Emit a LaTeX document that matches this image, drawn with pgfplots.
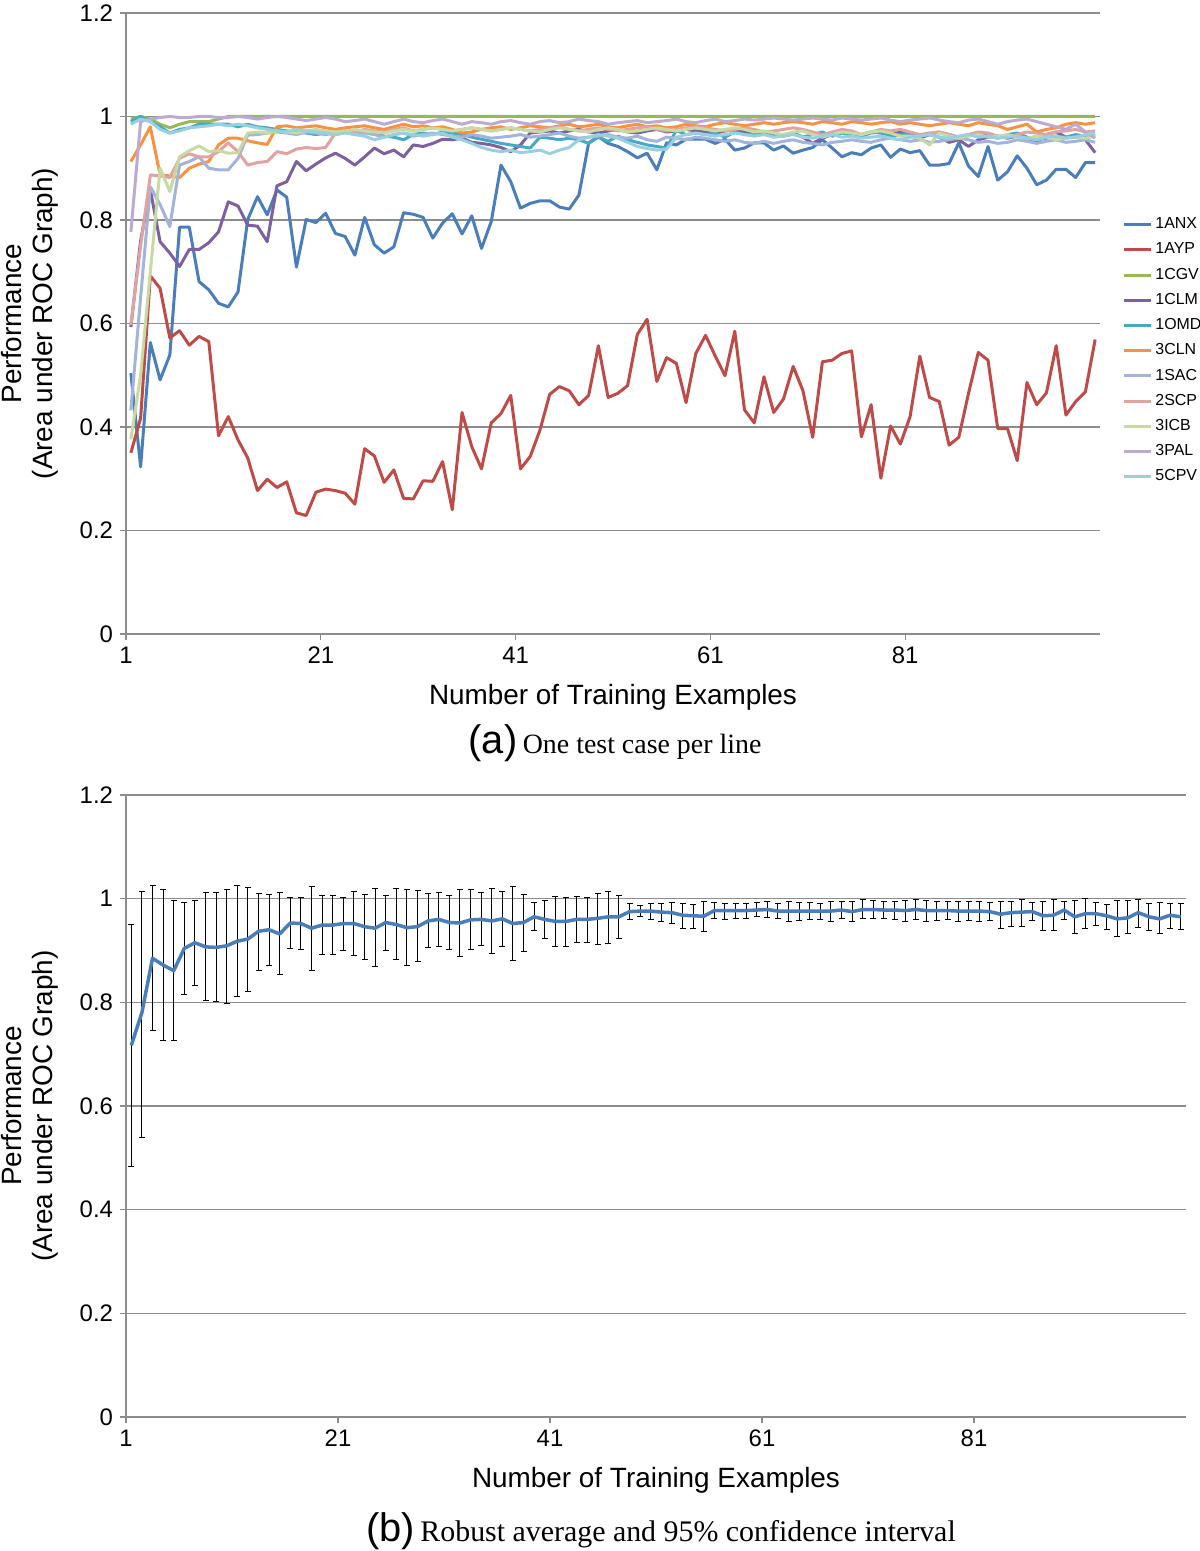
\documentclass[border=0pt]{standalone}
\usepackage{pgfplots}
\pgfplotsset{compat=1.18}
\usepackage{pgfplotstable}
\usepackage{fontspec}
\setmainfont{Liberation Sans}
\newfontfamily\capserif{Liberation Serif}

\definecolor{cANX}{HTML}{4A7EBB}
\definecolor{cAYP}{HTML}{BE4B48}
\definecolor{cCGV}{HTML}{98B954}
\definecolor{cCLM}{HTML}{7D60A0}
\definecolor{cOMD}{HTML}{46AAC5}
\definecolor{cCLN}{HTML}{F69240}
\definecolor{cSAC}{HTML}{A2B4DC}
\definecolor{cSCP}{HTML}{E0A3A1}
\definecolor{cICB}{HTML}{C7DAA1}
\definecolor{cPAL}{HTML}{BBAAD2}
\definecolor{cCPV}{HTML}{98D0E0}
\definecolor{gridc}{HTML}{8C8C8C}

\pgfplotstableread[header=false,row sep=\\]{
0.504\\0.323\\0.563\\0.491\\0.539\\0.786\\0.786\\0.681\\0.665\\0.639\\
0.632\\0.661\\0.801\\0.845\\0.810\\0.858\\0.844\\0.709\\0.801\\0.795\\
0.813\\0.774\\0.768\\0.732\\0.805\\0.752\\0.736\\0.748\\0.814\\0.811\\
0.805\\0.765\\0.794\\0.812\\0.773\\0.808\\0.745\\0.797\\0.906\\0.874\\
0.823\\0.832\\0.837\\0.837\\0.825\\0.821\\0.848\\0.949\\0.961\\0.948\\
0.942\\0.932\\0.920\\0.929\\0.897\\0.949\\0.945\\0.956\\0.956\\0.956\\
0.948\\0.956\\0.935\\0.939\\0.949\\0.949\\0.935\\0.943\\0.929\\0.935\\
0.940\\0.955\\0.939\\0.922\\0.930\\0.926\\0.939\\0.945\\0.921\\0.937\\
0.930\\0.934\\0.906\\0.906\\0.909\\0.949\\0.904\\0.884\\0.942\\0.877\\
0.893\\0.924\\0.900\\0.868\\0.877\\0.898\\0.898\\0.882\\0.911\\0.911\\
}\tANX

\pgfplotstableread[header=false,row sep=\\]{
0.350\\0.417\\0.692\\0.668\\0.572\\0.586\\0.558\\0.575\\0.565\\0.383\\
0.420\\0.375\\0.340\\0.277\\0.299\\0.283\\0.294\\0.234\\0.229\\0.274\\
0.280\\0.277\\0.272\\0.251\\0.358\\0.344\\0.293\\0.317\\0.262\\0.261\\
0.296\\0.295\\0.333\\0.240\\0.428\\0.362\\0.319\\0.408\\0.426\\0.461\\
0.319\\0.343\\0.394\\0.463\\0.478\\0.470\\0.443\\0.461\\0.557\\0.457\\
0.465\\0.480\\0.579\\0.608\\0.488\\0.534\\0.523\\0.447\\0.542\\0.577\\
0.537\\0.499\\0.585\\0.433\\0.408\\0.497\\0.428\\0.454\\0.517\\0.470\\
0.380\\0.526\\0.529\\0.542\\0.547\\0.381\\0.443\\0.301\\0.402\\0.367\\
0.420\\0.537\\0.457\\0.449\\0.365\\0.380\\0.465\\0.544\\0.529\\0.397\\
0.397\\0.335\\0.486\\0.443\\0.466\\0.557\\0.423\\0.449\\0.468\\0.569\\
}\tAYP

\pgfplotstableread[header=false,row sep=\\]{
0.995\\1\\0.995\\0.985\\0.978\\0.985\\0.99\\0.99\\0.99\\0.995\\
1\\1\\1\\1\\1\\1\\1\\1\\1\\1\\
1\\1\\1\\1\\1\\1\\1\\1\\1\\1\\
1\\1\\1\\1\\1\\1\\1\\1\\1\\1\\
1\\1\\1\\1\\1\\1\\1\\1\\1\\1\\
1\\1\\1\\1\\1\\1\\1\\1\\1\\1\\
1\\1\\1\\1\\1\\1\\1\\1\\1\\1\\
1\\1\\1\\1\\1\\1\\1\\1\\1\\1\\
1\\1\\1\\1\\1\\1\\1\\1\\1\\1\\
1\\1\\1\\1\\1\\1\\1\\1\\1\\1\\
}\tCGV

\pgfplotstableread[header=false,row sep=\\]{
0.593\\0.760\\0.858\\0.758\\0.736\\0.710\\0.743\\0.743\\0.756\\0.777\\
0.835\\0.827\\0.790\\0.788\\0.758\\0.866\\0.874\\0.913\\0.895\\0.908\\
0.920\\0.929\\0.919\\0.906\\0.922\\0.939\\0.928\\0.935\\0.922\\0.945\\
0.942\\0.948\\0.956\\0.955\\0.958\\0.950\\0.948\\0.945\\0.940\\0.932\\
0.945\\0.968\\0.970\\0.972\\0.968\\0.972\\0.975\\0.970\\0.968\\0.972\\
0.975\\0.970\\0.968\\0.972\\0.975\\0.970\\0.972\\0.975\\0.972\\0.970\\
0.968\\0.972\\0.975\\0.970\\0.965\\0.968\\0.965\\0.962\\0.968\\0.960\\
0.948\\0.958\\0.965\\0.970\\0.968\\0.965\\0.970\\0.968\\0.965\\0.970\\
0.962\\0.958\\0.965\\0.960\\0.950\\0.955\\0.942\\0.955\\0.960\\0.962\\
0.958\\0.962\\0.955\\0.950\\0.965\\0.970\\0.960\\0.962\\0.955\\0.930\\
}\tCLM

\pgfplotstableread[header=false,row sep=\\]{
0.990\\1.000\\0.990\\0.980\\0.968\\0.975\\0.978\\0.985\\0.985\\0.985\\
0.985\\0.980\\0.985\\0.980\\0.978\\0.975\\0.972\\0.970\\0.968\\0.965\\
0.968\\0.965\\0.970\\0.968\\0.972\\0.968\\0.962\\0.960\\0.955\\0.965\\
0.968\\0.965\\0.970\\0.968\\0.965\\0.960\\0.956\\0.952\\0.948\\0.945\\
0.942\\0.939\\0.960\\0.958\\0.955\\0.958\\0.955\\0.948\\0.960\\0.952\\
0.962\\0.955\\0.950\\0.945\\0.942\\0.939\\0.973\\0.965\\0.968\\0.965\\
0.968\\0.960\\0.970\\0.965\\0.965\\0.968\\0.962\\0.965\\0.968\\0.960\\
0.965\\0.970\\0.962\\0.968\\0.965\\0.962\\0.968\\0.970\\0.962\\0.965\\
0.968\\0.962\\0.965\\0.970\\0.965\\0.960\\0.965\\0.968\\0.962\\0.958\\
0.965\\0.968\\0.960\\0.955\\0.958\\0.962\\0.960\\0.965\\0.962\\0.965\\
}\tOMD

\pgfplotstableread[header=false,row sep=\\]{
0.913\\0.945\\0.980\\0.887\\0.885\\0.882\\0.900\\0.908\\0.913\\0.945\\
0.958\\0.958\\0.953\\0.949\\0.946\\0.980\\0.982\\0.978\\0.980\\0.982\\
0.978\\0.975\\0.978\\0.980\\0.982\\0.978\\0.975\\0.980\\0.985\\0.980\\
0.982\\0.978\\0.980\\0.975\\0.968\\0.970\\0.975\\0.978\\0.980\\0.975\\
0.978\\0.982\\0.980\\0.978\\0.982\\0.985\\0.980\\0.982\\0.985\\0.980\\
0.978\\0.982\\0.985\\0.980\\0.982\\0.978\\0.980\\0.985\\0.982\\0.980\\
0.985\\0.988\\0.985\\0.982\\0.985\\0.988\\0.985\\0.988\\0.990\\0.988\\
0.985\\0.990\\0.988\\0.985\\0.990\\0.988\\0.985\\0.988\\0.990\\0.985\\
0.988\\0.985\\0.982\\0.985\\0.988\\0.985\\0.982\\0.988\\0.985\\0.982\\
0.975\\0.980\\0.985\\0.970\\0.975\\0.978\\0.985\\0.988\\0.985\\0.988\\
}\tCLN

\pgfplotstableread[header=false,row sep=\\]{
0.432\\0.650\\0.864\\0.830\\0.787\\0.906\\0.913\\0.922\\0.900\\0.897\\
0.897\\0.919\\0.964\\0.965\\0.968\\0.970\\0.968\\0.965\\0.970\\0.968\\
0.965\\0.968\\0.970\\0.965\\0.968\\0.965\\0.960\\0.965\\0.968\\0.962\\
0.965\\0.968\\0.965\\0.962\\0.960\\0.965\\0.962\\0.958\\0.960\\0.962\\
0.965\\0.960\\0.962\\0.965\\0.968\\0.962\\0.958\\0.960\\0.962\\0.965\\
0.960\\0.958\\0.962\\0.955\\0.952\\0.960\\0.958\\0.955\\0.960\\0.958\\
0.955\\0.952\\0.955\\0.950\\0.948\\0.952\\0.948\\0.952\\0.955\\0.950\\
0.948\\0.945\\0.950\\0.952\\0.955\\0.952\\0.950\\0.955\\0.958\\0.955\\
0.952\\0.955\\0.950\\0.952\\0.955\\0.958\\0.955\\0.950\\0.952\\0.948\\
0.950\\0.955\\0.952\\0.948\\0.952\\0.955\\0.950\\0.952\\0.955\\0.950\\
}\tSAC

\pgfplotstableread[header=false,row sep=\\]{
0.597\\0.750\\0.887\\0.885\\0.882\\0.919\\0.928\\0.922\\0.922\\0.932\\
0.949\\0.932\\0.906\\0.911\\0.913\\0.932\\0.928\\0.937\\0.940\\0.938\\
0.940\\0.968\\0.972\\0.970\\0.975\\0.972\\0.970\\0.975\\0.978\\0.972\\
0.975\\0.978\\0.975\\0.972\\0.975\\0.978\\0.975\\0.972\\0.975\\0.978\\
0.975\\0.972\\0.975\\0.978\\0.980\\0.975\\0.972\\0.975\\0.978\\0.975\\
0.972\\0.975\\0.978\\0.980\\0.975\\0.972\\0.975\\0.978\\0.980\\0.978\\
0.975\\0.972\\0.975\\0.978\\0.975\\0.970\\0.972\\0.975\\0.978\\0.975\\
0.970\\0.965\\0.970\\0.975\\0.972\\0.965\\0.970\\0.975\\0.972\\0.975\\
0.970\\0.965\\0.968\\0.970\\0.965\\0.960\\0.965\\0.970\\0.968\\0.962\\
0.960\\0.965\\0.970\\0.968\\0.965\\0.970\\0.972\\0.975\\0.970\\0.972\\
}\tSCP

\pgfplotstableread[header=false,row sep=\\]{
0.376\\0.500\\0.700\\0.900\\0.855\\0.922\\0.934\\0.943\\0.932\\0.934\\
0.929\\0.930\\0.968\\0.970\\0.968\\0.972\\0.970\\0.968\\0.972\\0.975\\
0.972\\0.970\\0.972\\0.975\\0.972\\0.970\\0.968\\0.972\\0.975\\0.972\\
0.975\\0.978\\0.975\\0.972\\0.975\\0.978\\0.975\\0.972\\0.975\\0.978\\
0.975\\0.972\\0.970\\0.975\\0.978\\0.975\\0.972\\0.970\\0.975\\0.978\\
0.975\\0.970\\0.972\\0.975\\0.978\\0.975\\0.972\\0.975\\0.978\\0.975\\
0.972\\0.975\\0.978\\0.975\\0.970\\0.972\\0.968\\0.965\\0.970\\0.972\\
0.965\\0.960\\0.965\\0.970\\0.968\\0.965\\0.970\\0.972\\0.968\\0.962\\
0.962\\0.958\\0.945\\0.968\\0.962\\0.958\\0.962\\0.965\\0.960\\0.962\\
0.965\\0.960\\0.958\\0.962\\0.960\\0.955\\0.958\\0.960\\0.958\\0.962\\
}\tICB

\pgfplotstableread[header=false,row sep=\\]{
0.777\\0.990\\0.995\\0.998\\1.000\\0.998\\0.998\\1.000\\1.000\\0.998\\
0.998\\1.000\\0.998\\0.995\\0.998\\1.000\\0.998\\0.995\\0.992\\0.995\\
0.998\\0.995\\0.990\\0.992\\0.995\\0.990\\0.985\\0.990\\0.995\\0.990\\
0.988\\0.992\\0.995\\0.990\\0.985\\0.990\\0.988\\0.985\\0.990\\0.992\\
0.988\\0.985\\0.990\\0.992\\0.988\\0.990\\0.995\\0.992\\0.990\\0.985\\
0.988\\0.990\\0.992\\0.988\\0.990\\0.992\\0.995\\0.990\\0.988\\0.992\\
0.995\\0.990\\0.992\\0.995\\0.993\\0.995\\0.997\\0.995\\0.993\\0.995\\
0.997\\0.995\\0.993\\0.997\\0.995\\0.993\\0.995\\0.997\\0.993\\0.990\\
0.993\\0.995\\0.997\\0.993\\0.990\\0.988\\0.993\\0.995\\0.990\\0.985\\
0.990\\0.993\\0.995\\0.990\\0.985\\0.980\\0.975\\0.985\\0.970\\0.958\\
}\tPAL

\pgfplotstableread[header=false,row sep=\\]{
0.985\\0.995\\0.990\\0.975\\0.968\\0.972\\0.978\\0.980\\0.982\\0.985\\
0.982\\0.985\\0.982\\0.978\\0.975\\0.972\\0.970\\0.975\\0.972\\0.970\\
0.968\\0.965\\0.968\\0.965\\0.962\\0.955\\0.960\\0.965\\0.968\\0.965\\
0.962\\0.965\\0.968\\0.960\\0.955\\0.948\\0.940\\0.935\\0.932\\0.935\\
0.930\\0.932\\0.935\\0.928\\0.935\\0.940\\0.955\\0.960\\0.965\\0.962\\
0.958\\0.950\\0.942\\0.938\\0.935\\0.937\\0.960\\0.965\\0.968\\0.965\\
0.962\\0.965\\0.968\\0.965\\0.962\\0.965\\0.960\\0.962\\0.965\\0.960\\
0.958\\0.962\\0.965\\0.960\\0.962\\0.958\\0.960\\0.962\\0.958\\0.955\\
0.960\\0.962\\0.965\\0.960\\0.958\\0.962\\0.965\\0.960\\0.962\\0.958\\
0.960\\0.962\\0.958\\0.955\\0.960\\0.962\\0.958\\0.960\\0.965\\0.968\\
}\tCPV

\pgfplotstableread{
x y hi lo
1 0.717 0.951 0.484
2 0.780 1.013 0.539
3 0.885 1.026 0.745
4 0.872 1.018 0.726
5 0.861 0.997 0.726
6 0.904 0.992 0.815
7 0.915 0.997 0.833
8 0.907 1.011 0.804
9 0.906 1.011 0.801
10 0.909 1.018 0.798
11 0.918 1.026 0.812
12 0.922 1.021 0.821
13 0.937 1.009 0.861
14 0.940 1.008 0.872
15 0.932 1.011 0.854
16 0.953 1.002 0.904
17 0.952 1.002 0.901
18 0.943 1.024 0.861
19 0.949 1.006 0.893
20 0.949 1.006 0.893
21 0.952 1.003 0.900
22 0.952 1.013 0.890
23 0.946 1.008 0.883
24 0.943 1.019 0.870
25 0.954 1.006 0.900
26 0.950 1.019 0.882
27 0.944 1.018 0.872
28 0.946 1.015 0.879
29 0.957 1.009 0.906
30 0.960 1.011 0.907
31 0.954 1.006 0.902
32 0.953 1.017 0.888
33 0.959 1.017 0.902
34 0.960 1.012 0.910
35 0.957 1.019 0.894
36 0.961 1.014 0.907
37 0.952 1.023 0.881
38 0.954 1.008 0.898
39 0.965 0.992 0.938
40 0.960 0.996 0.923
41 0.956 1.005 0.907
42 0.956 1.002 0.907
43 0.960 1.004 0.916
44 0.960 1.003 0.915
45 0.962 1.009 0.911
46 0.965 1.014 0.914
47 0.965 1.006 0.923
48 0.975 0.990 0.960
49 0.976 0.986 0.965
50 0.976 0.990 0.960
51 0.974 0.990 0.956
52 0.973 0.992 0.952
53 0.968 0.990 0.943
54 0.967 0.989 0.943
55 0.966 0.994 0.936
56 0.977 0.992 0.961
57 0.977 0.991 0.960
58 0.977 0.991 0.962
59 0.977 0.990 0.962
60 0.978 0.992 0.965
61 0.979 0.994 0.964
62 0.976 0.990 0.961
63 0.976 0.994 0.956
64 0.976 0.992 0.958
65 0.976 0.992 0.959
66 0.976 0.990 0.960
67 0.976 0.994 0.955
68 0.978 0.994 0.961
69 0.975 0.994 0.955
70 0.979 0.999 0.961
71 0.979 0.997 0.961
72 0.978 0.994 0.962
73 0.978 0.994 0.960
74 0.977 0.997 0.955
75 0.979 0.999 0.959
76 0.977 0.997 0.956
77 0.977 0.994 0.958
78 0.977 0.994 0.960
79 0.976 0.995 0.955
80 0.976 0.994 0.957
81 0.976 0.994 0.956
82 0.975 0.992 0.957
83 0.970 0.994 0.943
84 0.973 0.995 0.947
85 0.974 0.999 0.947
86 0.975 0.992 0.958
87 0.967 0.994 0.939
88 0.968 0.999 0.938
89 0.978 0.994 0.959
90 0.965 0.997 0.933
91 0.971 1.000 0.943
92 0.971 0.992 0.949
93 0.967 0.988 0.941
94 0.961 0.997 0.927
95 0.963 0.997 0.933
96 0.973 0.999 0.944
97 0.965 0.991 0.938
98 0.961 0.992 0.932
99 0.968 0.991 0.943
100 0.965 0.991 0.940
}\tB

\pgfplotsset{
  roc/.style={
    scale only axis,
    axis lines*=left,
    axis line style={gridc, line width=0.6bp},
    ymin=0, ymax=1.2, ytick={0,0.2,0.4,0.6,0.8,1,1.2},
    xmin=0.5, xmax=100.5,
    xtick={0.5,20.5,40.5,60.5,80.5},
    xticklabels={1,21,41,61,81},
    ymajorgrids,
    grid style={gridc, line width=0.6bp},
    tick style={gridc, line width=0.6bp},
    tick align=outside,
    major tick length=3bp,
    /pgf/number format/assume math mode=true,
    ticklabel style={font=\fontsize{12}{12}\selectfont},
    xlabel={Number of Training Examples},
    ylabel={Performance\\(Area under ROC Graph)},
    every axis x label/.style={at={([yshift=-31.5bp]axis description cs:0.5,0)}, anchor=center, font=\fontsize{14}{16}\selectfont},
    every axis y label/.style={at={([xshift=-48bp]axis description cs:0,0.5)}, rotate=90, anchor=center, align=center, font=\fontsize{14}{15.5}\selectfont},
  },
  ser/.style={line width=1.5bp, mark=none, line join=round},
}

\begin{document}
\begin{tikzpicture}[x=1bp,y=1bp]
\path[use as bounding box] (0,0) rectangle (600,775.5);

\begin{axis}[roc,
  at={(63bp,458.5bp)}, anchor=south west,
  width=487bp, height=310.5bp,
  legend cell align=left,
  legend image code/.code={\draw[#1,line width=1.5bp] (0bp,0bp) -- (13.5bp,0bp);},
  legend style={draw=none, fill=none, at={(1.0226,0.6722)}, anchor=north west,
    inner sep=0pt, row sep=4.55bp, font=\fontsize{8}{8}\selectfont,
    nodes={inner sep=0.5bp},
    /tikz/every odd column/.style={column sep=1bp}},
]
\addplot[ser, cANX] table[x expr=\coordindex+1, y index=0] {\tANX};
\addplot[ser, cAYP] table[x expr=\coordindex+1, y index=0] {\tAYP};
\addplot[ser, cCGV] table[x expr=\coordindex+1, y index=0] {\tCGV};
\addplot[ser, cCLM] table[x expr=\coordindex+1, y index=0] {\tCLM};
\addplot[ser, cOMD] table[x expr=\coordindex+1, y index=0] {\tOMD};
\addplot[ser, cCLN] table[x expr=\coordindex+1, y index=0] {\tCLN};
\addplot[ser, cSAC] table[x expr=\coordindex+1, y index=0] {\tSAC};
\addplot[ser, cSCP] table[x expr=\coordindex+1, y index=0] {\tSCP};
\addplot[ser, cICB] table[x expr=\coordindex+1, y index=0] {\tICB};
\addplot[ser, cPAL] table[x expr=\coordindex+1, y index=0] {\tPAL};
\addplot[ser, cCPV] table[x expr=\coordindex+1, y index=0] {\tCPV};
\legend{1ANX,1AYP,1CGV,1CLM,1OMD,3CLN,1SAC,2SCP,3ICB,3PAL,5CPV}
\end{axis}

\begin{axis}[roc,
  at={(63bp,67bp)}, anchor=south west,
  width=530bp, height=311bp,
]
\addplot[forget plot, draw=none, mark=none,
  error bars/.cd, y dir=both, y explicit,
  error bar style={draw=black, line width=0.5bp},
  error mark=none]
  table[x=x, y=y, y error plus expr=\thisrow{hi}-\thisrow{y}, y error minus expr=\thisrow{y}-\thisrow{lo}] {\tB};
\addplot[forget plot, only marks, mark=-, mark size=1.5bp, black, mark options={line width=0.5bp}] table[x=x, y=hi] {\tB};
\addplot[forget plot, only marks, mark=-, mark size=1.5bp, black, mark options={line width=0.5bp}] table[x=x, y=lo] {\tB};
\addplot[cANX, line width=1.75bp, mark=none, line join=round] table[x=x, y=y] {\tB};
\end{axis}

\node[anchor=center] at (307.5,404) {{\fontsize{20}{20}\selectfont (a)} {\capserif\fontsize{14}{14}\selectfont One test case per line}};
\node[anchor=center] at (330.5,10) {{\fontsize{20}{20}\selectfont (b)} {\capserif\fontsize{15}{15}\selectfont Robust average and 95\% confidence interval}};
\end{tikzpicture}
\end{document}
